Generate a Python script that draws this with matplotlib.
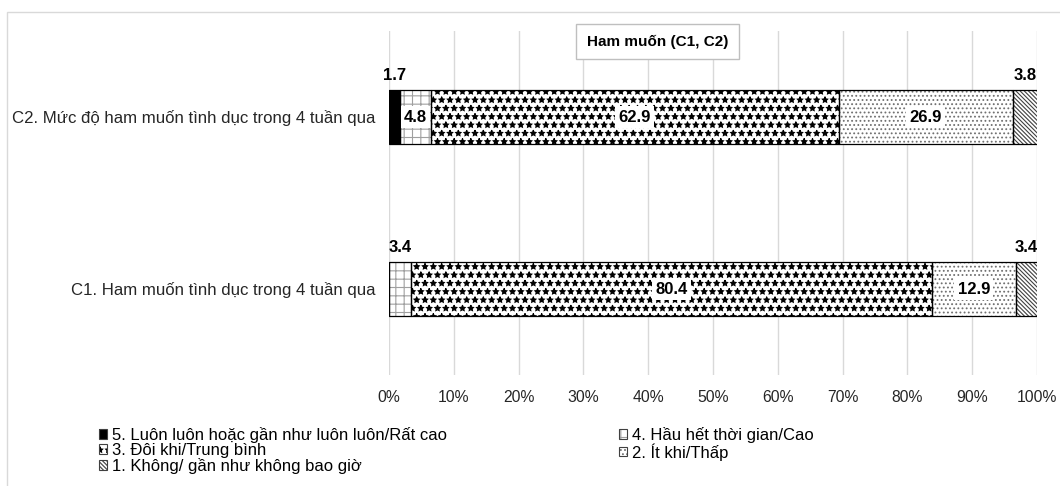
import numpy as np
import matplotlib.pyplot as plt
from matplotlib.patches import Patch, Rectangle
from matplotlib.ticker import PercentFormatter

plt.rcParams['font.family'] = ['Liberation Sans', 'DejaVu Sans']
plt.rcParams['hatch.linewidth'] = 0.8

title = 'Ham muốn (C1, C2)'
categories = ['C1. Ham muốn tình dục trong 4 tuần qua',
              'C2. Mức độ ham muốn tình dục trong 4 tuần qua']
levels = ['5. Luôn luôn hoặc gần như luôn luôn/Rất cao',
          '4. Hầu hết thời gian/Cao',
          '3. Đôi khi/Trung bình',
          '2. Ít khi/Thấp',
          '1. Không/ gần như không bao giờ']

# phần trăm theo mức, thứ tự [C1, C2]
lvl5 = [0.0, 1.7]
lvl4 = [3.4, 4.8]
lvl3 = [80.4, 62.9]
lvl2 = [12.9, 26.9]
lvl1 = [3.4, 3.8]
values = [lvl5, lvl4, lvl3, lvl2, lvl1]

# (màu nền, hatch, màu hatch)
styles = [('black', None, 'black'),
          ('white', '++', '#a0a0a0'),
          ('white', '**', 'black'),
          ('white', '....', '#707070'),
          ('white', '\\' * 8, '#404040')]

W, H = 1060, 486
fig = plt.figure(figsize=(W / 100, H / 100), dpi=100)
ax = fig.add_axes([389 / W, 1 - 375 / H, 648 / W, 344 / H])

# khung ngoài của biểu đồ
fig.patches.append(Rectangle((7 / W, -0.1), 1.2, 1 - 12 / H + 0.1,
                             transform=fig.transFigure, fill=False,
                             edgecolor='#d9d9d9', linewidth=1, zorder=0))

y = np.arange(len(categories))
bar_h = 0.314
left = np.zeros(len(categories))
legend_handles = []
for vals, (fc, hatch, hc), name in zip(values, styles, levels):
    vals = np.array(vals)
    ax.barh(y, vals, left=left, height=bar_h, color=fc, hatch=hatch,
            edgecolor=hc, linewidth=0, zorder=2)
    outline = ax.barh(y, vals, left=left, height=bar_h, fill=False,
                      edgecolor='black', linewidth=0.9, zorder=3)
    for rect, v in zip(outline, vals):
        if v <= 0:
            continue
        cx = rect.get_x() + rect.get_width() / 2
        cy = rect.get_y() + rect.get_height() / 2
        if v < 4:
            # nhãn nhỏ đặt phía trên thanh
            ax.text(cx, rect.get_y() + rect.get_height() + 0.087, f'{v:.1f}',
                    ha='center', va='center', fontsize=12, fontweight='bold',
                    zorder=5)
        else:
            ax.text(cx, cy, f'{v:.1f}', ha='center', va='center',
                    fontsize=12, fontweight='bold', zorder=5,
                    bbox=dict(boxstyle='square,pad=0.2', fc='white',
                              ec='none'))
    left = left + vals
    legend_handles.append((Patch(facecolor=fc, hatch=hatch, edgecolor=hc,
                                 linewidth=0),
                           Patch(fill=False, edgecolor='#404040',
                                 linewidth=0.8)))

ax.set_xlim(0, 100)
ax.set_ylim(-0.5, 1.5)
ax.set_yticks(y)
ax.set_yticklabels(categories, fontsize=12.1)
ax.set_xticks(np.arange(0, 101, 10))
ax.xaxis.set_major_formatter(PercentFormatter(decimals=0))
ax.tick_params(axis='both', length=0, colors='#262626')
ax.tick_params(axis='x', pad=11, labelsize=11.3)
ax.tick_params(axis='y', pad=10)
ax.grid(axis='x', color='#d9d9d9', linewidth=1, zorder=0)
ax.set_axisbelow(True)
for s in ax.spines.values():
    s.set_visible(False)

# hộp tiêu đề
fig.patches.append(Rectangle((576 / W, 1 - 59 / H), 163 / W, 35 / H,
                             transform=fig.transFigure, facecolor='white',
                             edgecolor='#bfbfbf', linewidth=1, zorder=5))
fig.text(657.5 / W, 1 - 41.5 / H, title, ha='center', va='center',
         fontsize=11, fontweight='bold', zorder=6)

# chú thích: 2 cột, sắp theo hàng
order = [0, 2, 4, 1, 3]
fig.legend([legend_handles[i] for i in order], [levels[i] for i in order],
           ncol=2, loc='upper left', bbox_to_anchor=(99 / W, 1 - 427 / H),
           frameon=False, fontsize=12, handlelength=0.5, handleheight=0.5,
           handletextpad=0.3, labelspacing=0.0, columnspacing=10.3,
           borderaxespad=0, borderpad=0)

fig.savefig('out.png', dpi=100)
